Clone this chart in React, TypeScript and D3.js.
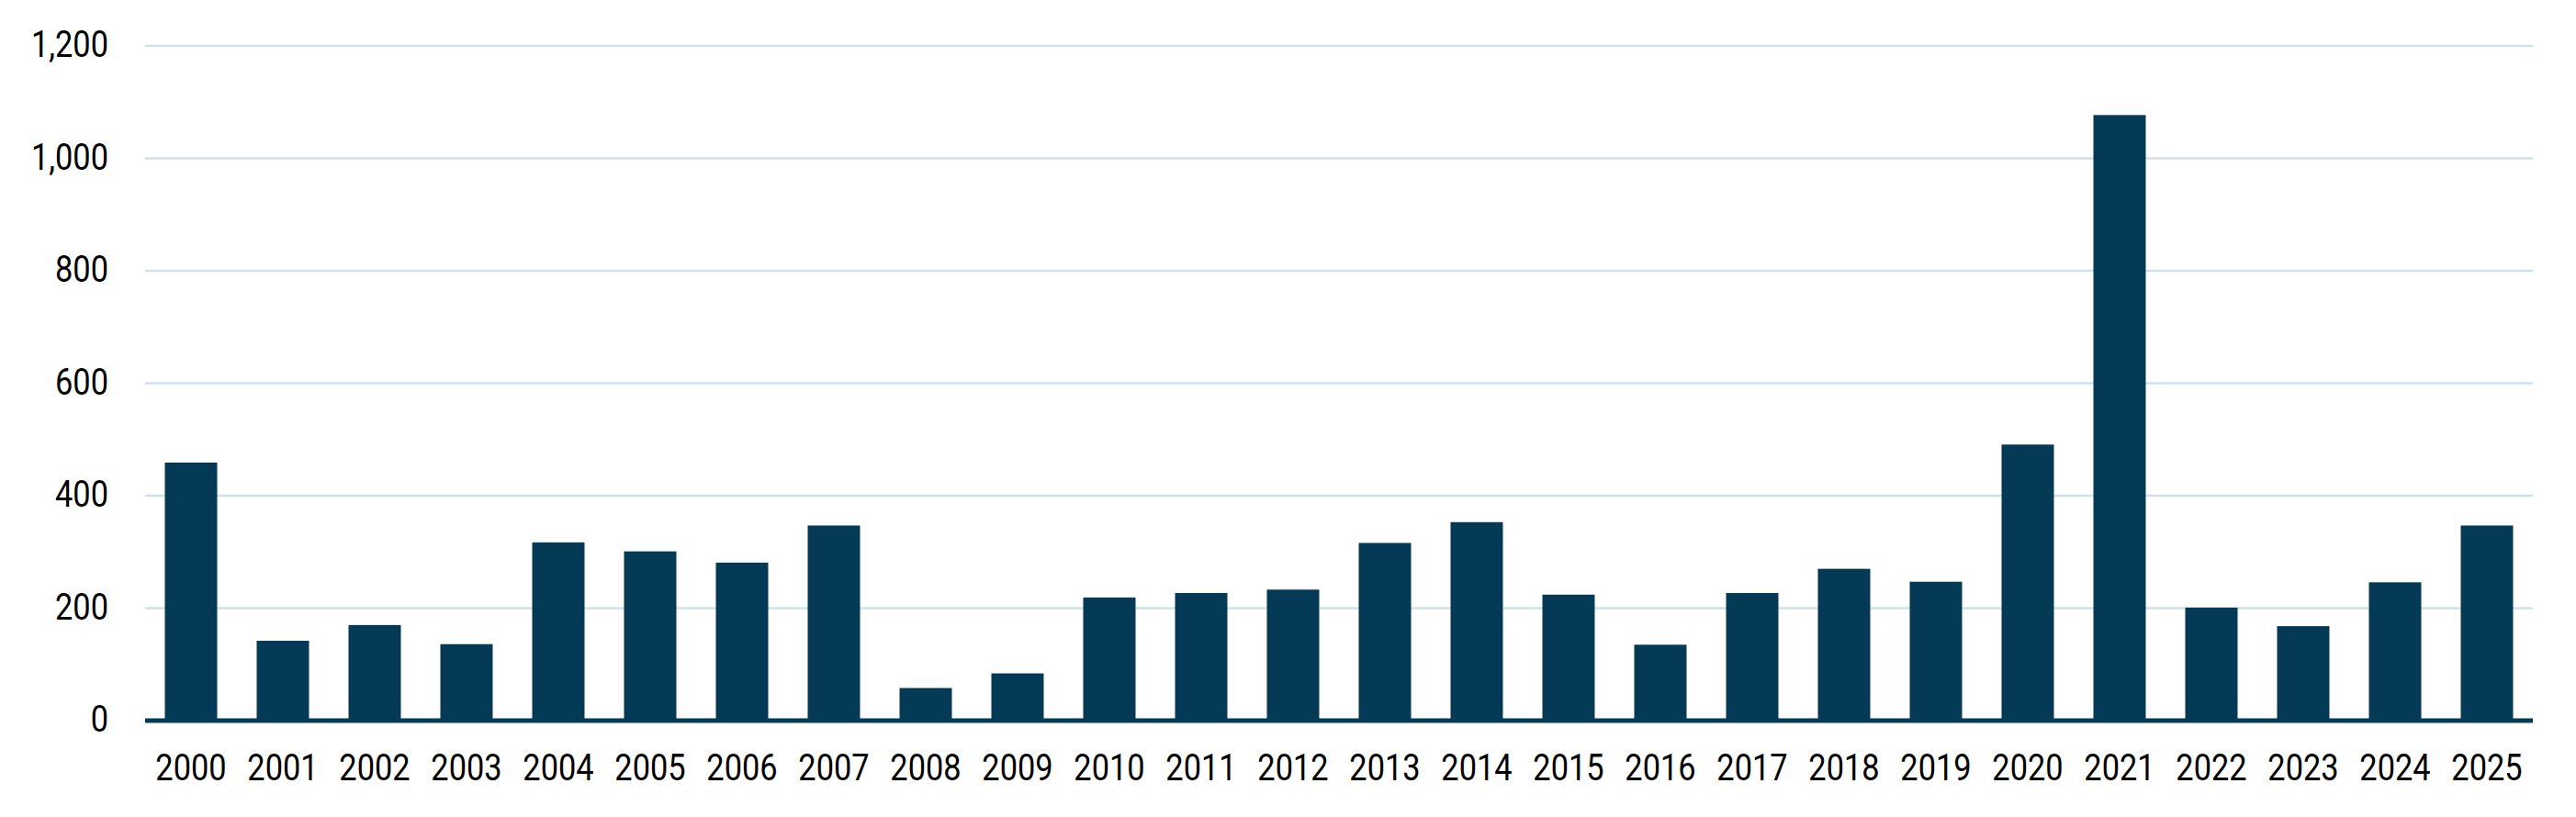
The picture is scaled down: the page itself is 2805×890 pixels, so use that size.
import React, { useEffect } from "react";
import * as d3 from "d3";

const years: string[] = [
  "2000", "2001", "2002", "2003", "2004", "2005", "2006", "2007", "2008", "2009",
  "2010", "2011", "2012", "2013", "2014", "2015", "2016", "2017", "2018", "2019",
  "2020", "2021", "2022", "2023", "2024", "2025",
];
const values: number[] = [
  459, 142, 170, 136, 317, 301, 281, 347, 58, 84,
  219, 227, 233, 316, 353, 224, 135, 227, 270, 247,
  491, 1077, 201, 168, 246, 347,
];
const yTicks: number[] = [0, 200, 400, 600, 800, 1000, 1200];

const W = 2805;
const H = 890;
const margin = { left: 158, right: 47, top: 50, bottom: 105 };
const barColor = "#053a57";
const gridColor = "#cfe1ec";
const font = "Roboto, sans-serif";
const fontSize = 40;
const squeeze = 0.86;

export default function App() {
  useEffect(() => {
    document.body.style.margin = "0";
  }, []);

  const x = d3
    .scaleBand<string>()
    .domain(years)
    .range([margin.left, W - margin.right])
    .paddingInner(0.43)
    .paddingOuter(0.215);
  const y = d3.scaleLinear().domain([0, 1200]).range([H - margin.bottom, margin.top]);
  const fmt = d3.format(",");

  return (
    <svg width={W} height={H} style={{ display: "block", background: "#fff" }}>
      {yTicks.map((t) => (
        <g key={t}>
          {t !== 0 && (
            <line
              x1={margin.left}
              x2={W - margin.right}
              y1={y(t)}
              y2={y(t)}
              stroke={gridColor}
              strokeWidth={2.5}
            />
          )}
          <text
            transform={`translate(118,${y(t)}) scale(${squeeze},1)`}
            dy="0.3em"
            textAnchor="end"
            fontFamily={font}
            fontSize={fontSize}
            fill="#000"
          >
            {fmt(t)}
          </text>
        </g>
      ))}
      {years.map((yr, i) => (
        <rect
          key={yr}
          x={x(yr)}
          y={y(values[i])}
          width={x.bandwidth()}
          height={y(0) - y(values[i])}
          fill={barColor}
        />
      ))}
      <line
        x1={margin.left}
        x2={W - margin.right}
        y1={y(0)}
        y2={y(0)}
        stroke={barColor}
        strokeWidth={5}
      />
      {years.map((yr) => (
        <text
          key={yr}
          transform={`translate(${(x(yr) as number) + x.bandwidth() / 2},850) scale(${squeeze},1)`}
          textAnchor="middle"
          fontFamily={font}
          fontSize={fontSize}
          fill="#000"
        >
          {yr}
        </text>
      ))}
    </svg>
  );
}
